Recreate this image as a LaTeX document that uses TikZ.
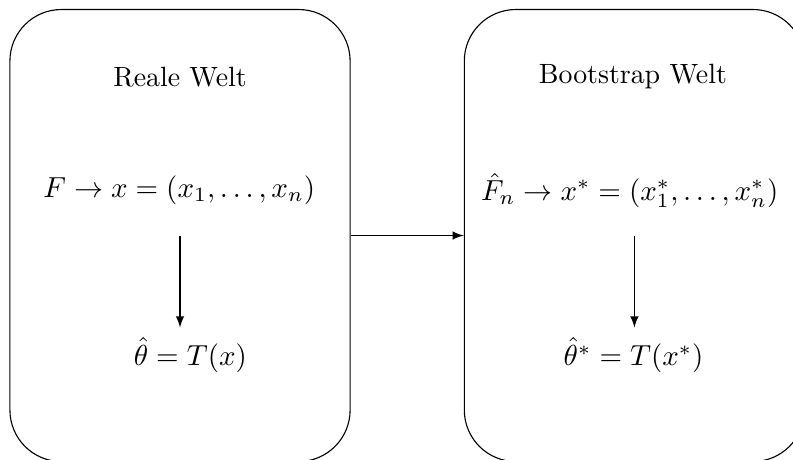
\documentclass[tikz,border=0pt]{standalone}
\usepackage{amsmath}
\usetikzlibrary{arrows.meta,positioning,calc}
\tikzset{
    every node/.append style={align=center},
    world/.style={rectangle,draw=black,rounded corners=0.65cm,minimum width=4.29cm,
        minimum height=5.7cm},
    title/.style={font=\normalsize},
    formula/.style={font=\normalsize,scale=1.04},
    arr/.style={-latex}
}
\begin{document}
\begin{tikzpicture}
    \useasboundingbox (0,0) rectangle (10,5.8);
    % worlds
    \node[world] (realbox) at (2.27,2.83) {};
    \node[world] (bootbox) at (8.00,2.83) {};
    % titles
    \node[title] (realtitle) at (2.27,4.83) {Reale Welt};
    \node[title] (boottitle) at (7.98,4.83) {Bootstrap Welt};
    % samples
    \node[formula] (realsample) at (2.26,3.40) {$F \to x = (x_1,\ldots,x_n)$};
    \node[formula] (bootsample) at (7.94,3.40) {$\hat{F}_n \to x^* = (x_1^*,\ldots,x_n^*)$};
    % estimators
    \node[formula] (realest) at (2.40,1.32) {$\hat{\theta} = T(x)$};
    \node[formula] (bootest) at (7.99,1.32) {$\hat{\theta}^* = T(x^*)$};

    \draw[arr] (realbox.east) -- (bootbox.west);
    \draw[arr] (realbox.center) -- (realbox.center |- realest.north);
    \draw[arr] (bootbox.center) -- (bootbox.center |- bootest.north);
\end{tikzpicture}
\end{document}
